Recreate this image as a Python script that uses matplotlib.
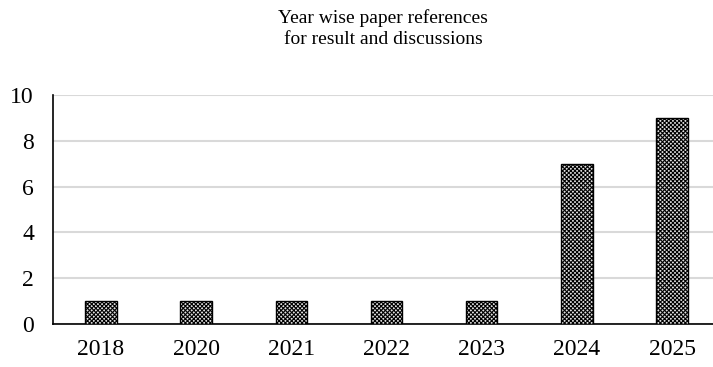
import matplotlib
matplotlib.use('Agg')
import matplotlib.pyplot as plt
import numpy as np

years = ['2018', '2020', '2021', '2022', '2023', '2024', '2025']
counts = [1, 1, 1, 1, 1, 7, 9]

plt.rcParams['font.family'] = ['Liberation Serif', 'DejaVu Serif']
plt.rcParams['hatch.linewidth'] = 0.8
plt.rcParams['hatch.color'] = '#222222'

fig = plt.figure(figsize=(7.13, 3.67), dpi=100)
ax = fig.add_axes([53.4 / 713, 1 - 324 / 367, (719.6 - 53.4) / 713, (324 - 95) / 367])

x = np.arange(len(years))
ax.bar(x, counts, width=0.33, facecolor='#e0e0e0', edgecolor='black',
       hatch='xxxxxxxx', linewidth=1.0, zorder=3)

ax.set_xlim(-0.5, len(years) - 0.5)
ax.set_ylim(0, 10)
ax.set_yticks(range(0, 11, 2))
ax.set_xticks(x)
ax.set_xticklabels(years)
ax.tick_params(axis='both', length=0, labelsize=17)
ax.tick_params(axis='x', pad=11)
ax.tick_params(axis='y', pad=14)
ax.yaxis.grid(True, color='#d9d9d9', linewidth=1.5, zorder=0)
ax.set_axisbelow(True)
for s in ['top', 'right']:
    ax.spines[s].set_visible(False)
for s in ['left', 'bottom']:
    ax.spines[s].set_color('black')
    ax.spines[s].set_linewidth(1.2)

fig.text(383 / 713, 1 - 29 / 367, 'Year wise paper references\nfor result and discussions',
         ha='center', va='center', fontsize=14, linespacing=1.3)

fig.savefig('out.png', dpi=100)
